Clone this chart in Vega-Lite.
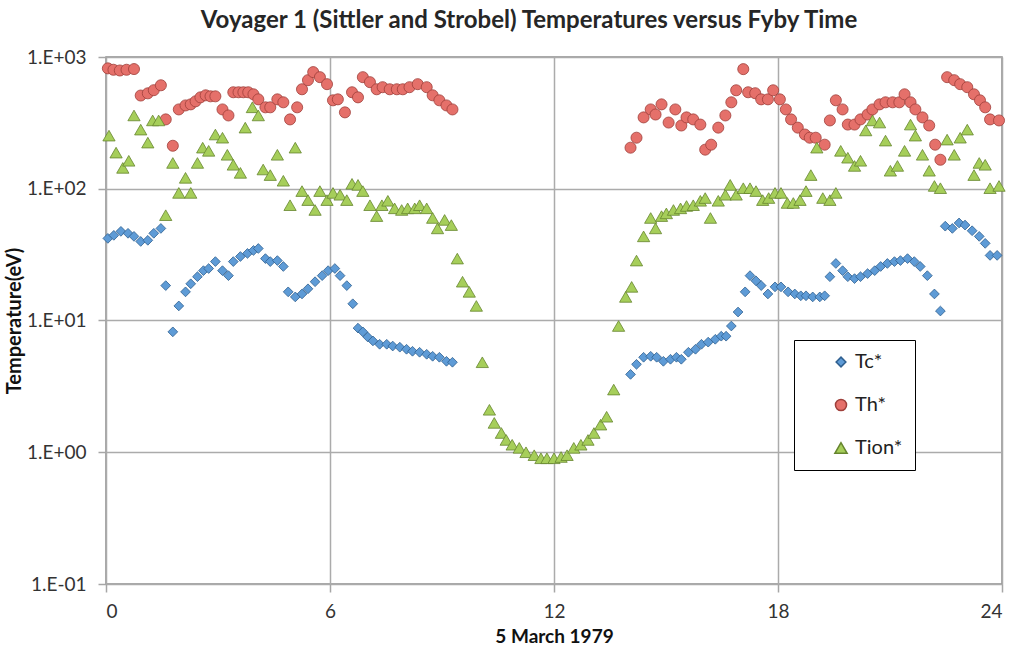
{
"$schema":"https://vega.github.io/schema/vega-lite/v6.json",
"width":896,"height":527,
"autosize":"none",
"padding":{"left":106,"top":57,"right":16,"bottom":71},
"background":"white",
"title":{"text":"Voyager 1 (Sittler and Strobel) Temperatures versus Fyby Time","font":"Lato","fontSize":24,"fontWeight":"bold","color":"#262626","anchor":"middle","dx":-25,"offset":15},
"config":{"view":{"stroke":"#8c8c8c","strokeWidth":1.5},
"axis":{"grid":true,"gridColor":"#ababab","gridWidth":1.5,"domain":false,"ticks":true,"tickColor":"#a6a6a6","tickWidth":1.5,"tickSize":8,"labelFont":"Lato","labelFontSize":19,"labelColor":"#333333","titleFont":"Lato","titleFontWeight":"bold","titleColor":"#111111"}},
"datasets":{"t":[
{"s":"Tc*","h":0.05,"T":42},{"s":"Tc*","h":0.21,"T":44.3},{"s":"Tc*","h":0.4,"T":47.5},{"s":"Tc*","h":0.59,"T":45.9},{"s":"Tc*","h":0.75,"T":43.5},{"s":"Tc*","h":0.93,"T":39.8},{"s":"Tc*","h":1.12,"T":40.6},{"s":"Tc*","h":1.28,"T":45.9},{"s":"Tc*","h":1.47,"T":50},{"s":"Tc*","h":1.6,"T":18.4},{"s":"Tc*","h":1.79,"T":8.2},{"s":"Tc*","h":1.95,"T":12.9},{"s":"Tc*","h":2.13,"T":16.5},{"s":"Tc*","h":2.27,"T":19},{"s":"Tc*","h":2.45,"T":21.5},{"s":"Tc*","h":2.61,"T":23.9},{"s":"Tc*","h":2.75,"T":24.8},{"s":"Tc*","h":2.93,"T":28},{"s":"Tc*","h":3.12,"T":23.9},{"s":"Tc*","h":3.28,"T":21.9},{"s":"Tc*","h":3.41,"T":28},{"s":"Tc*","h":3.6,"T":30.6},{"s":"Tc*","h":3.79,"T":32.3},{"s":"Tc*","h":3.95,"T":34},{"s":"Tc*","h":4.08,"T":35.2},{"s":"Tc*","h":4.27,"T":29.5},{"s":"Tc*","h":4.4,"T":28},{"s":"Tc*","h":4.59,"T":28.5},{"s":"Tc*","h":4.75,"T":25.7},{"s":"Tc*","h":4.88,"T":16.5},{"s":"Tc*","h":5.07,"T":15.1},{"s":"Tc*","h":5.25,"T":15.9},{"s":"Tc*","h":5.41,"T":17.4},{"s":"Tc*","h":5.6,"T":19.7},{"s":"Tc*","h":5.79,"T":21.9},{"s":"Tc*","h":5.95,"T":23.9},{"s":"Tc*","h":6.13,"T":24.8},{"s":"Tc*","h":6.27,"T":21.9},{"s":"Tc*","h":6.45,"T":18.4},{"s":"Tc*","h":6.61,"T":13.4},{"s":"Tc*","h":6.75,"T":8.75},{"s":"Tc*","h":6.88,"T":8.2},{"s":"Tc*","h":7.01,"T":7.5},{"s":"Tc*","h":7.15,"T":7.0},{"s":"Tc*","h":7.33,"T":6.6},{"s":"Tc*","h":7.52,"T":6.6},{"s":"Tc*","h":7.68,"T":6.4},{"s":"Tc*","h":7.87,"T":6.27},{"s":"Tc*","h":8.05,"T":6.05},{"s":"Tc*","h":8.21,"T":5.84},{"s":"Tc*","h":8.4,"T":5.74},{"s":"Tc*","h":8.59,"T":5.54},{"s":"Tc*","h":8.75,"T":5.35},{"s":"Tc*","h":8.93,"T":5.26},{"s":"Tc*","h":9.12,"T":4.9},{"s":"Tc*","h":9.28,"T":4.82},
{"s":"Tc*","h":14.05,"T":3.9},{"s":"Tc*","h":14.21,"T":4.65},{"s":"Tc*","h":14.4,"T":5.26},{"s":"Tc*","h":14.59,"T":5.35},{"s":"Tc*","h":14.75,"T":5.26},{"s":"Tc*","h":14.93,"T":4.9},{"s":"Tc*","h":15.12,"T":5.08},{"s":"Tc*","h":15.28,"T":5.26},{"s":"Tc*","h":15.41,"T":5.08},{"s":"Tc*","h":15.6,"T":5.74},{"s":"Tc*","h":15.79,"T":6.05},{"s":"Tc*","h":15.95,"T":6.6},{"s":"Tc*","h":16.13,"T":6.85},{"s":"Tc*","h":16.32,"T":7.2},{"s":"Tc*","h":16.48,"T":7.6},{"s":"Tc*","h":16.61,"T":7.6},{"s":"Tc*","h":16.75,"T":9.08},{"s":"Tc*","h":16.93,"T":11.6},{"s":"Tc*","h":17.12,"T":16.5},{"s":"Tc*","h":17.25,"T":21.9},{"s":"Tc*","h":17.41,"T":20},{"s":"Tc*","h":17.55,"T":18.4},{"s":"Tc*","h":17.73,"T":15.9},{"s":"Tc*","h":17.92,"T":18},{"s":"Tc*","h":18.08,"T":18},{"s":"Tc*","h":18.27,"T":16.5},{"s":"Tc*","h":18.45,"T":15.9},{"s":"Tc*","h":18.61,"T":15.4},{"s":"Tc*","h":18.75,"T":15.4},{"s":"Tc*","h":18.93,"T":15.1},{"s":"Tc*","h":19.12,"T":15.1},{"s":"Tc*","h":19.25,"T":15.4},{"s":"Tc*","h":19.39,"T":21.5},{"s":"Tc*","h":19.55,"T":27.1},{"s":"Tc*","h":19.73,"T":23.9},{"s":"Tc*","h":19.87,"T":21.5},{"s":"Tc*","h":20.05,"T":20.8},{"s":"Tc*","h":20.21,"T":21.5},{"s":"Tc*","h":20.4,"T":22.7},{"s":"Tc*","h":20.59,"T":23.9},{"s":"Tc*","h":20.75,"T":25.7},{"s":"Tc*","h":20.93,"T":27.1},{"s":"Tc*","h":21.12,"T":28},{"s":"Tc*","h":21.28,"T":28.5},{"s":"Tc*","h":21.47,"T":29.5},{"s":"Tc*","h":21.65,"T":28},{"s":"Tc*","h":21.81,"T":25.7},{"s":"Tc*","h":22.0,"T":21.9},{"s":"Tc*","h":22.19,"T":15.9},{"s":"Tc*","h":22.35,"T":11.8},{"s":"Tc*","h":22.48,"T":52},{"s":"Tc*","h":22.67,"T":50},{"s":"Tc*","h":22.85,"T":55},{"s":"Tc*","h":23.01,"T":53},{"s":"Tc*","h":23.2,"T":48},{"s":"Tc*","h":23.39,"T":43.5},{"s":"Tc*","h":23.55,"T":38.5},{"s":"Tc*","h":23.68,"T":31.2},{"s":"Tc*","h":23.87,"T":31.2},
{"s":"Th*","h":0.05,"T":820},{"s":"Th*","h":0.2,"T":800},{"s":"Th*","h":0.37,"T":790},{"s":"Th*","h":0.55,"T":800},{"s":"Th*","h":0.75,"T":810},{"s":"Th*","h":0.93,"T":510},{"s":"Th*","h":1.12,"T":530},{"s":"Th*","h":1.28,"T":560},{"s":"Th*","h":1.47,"T":610},{"s":"Th*","h":1.6,"T":336},{"s":"Th*","h":1.79,"T":212},{"s":"Th*","h":1.95,"T":400},{"s":"Th*","h":2.13,"T":429},{"s":"Th*","h":2.27,"T":437},{"s":"Th*","h":2.4,"T":461},{"s":"Th*","h":2.53,"T":494},{"s":"Th*","h":2.67,"T":512},{"s":"Th*","h":2.8,"T":503},{"s":"Th*","h":2.93,"T":503},{"s":"Th*","h":3.12,"T":400},{"s":"Th*","h":3.28,"T":360},{"s":"Th*","h":3.41,"T":540},{"s":"Th*","h":3.55,"T":540},{"s":"Th*","h":3.68,"T":540},{"s":"Th*","h":3.81,"T":540},{"s":"Th*","h":3.95,"T":521},{"s":"Th*","h":4.08,"T":477},{"s":"Th*","h":4.27,"T":415},{"s":"Th*","h":4.4,"T":415},{"s":"Th*","h":4.59,"T":477},{"s":"Th*","h":4.75,"T":453},{"s":"Th*","h":4.93,"T":336},{"s":"Th*","h":5.12,"T":415},{"s":"Th*","h":5.25,"T":569},{"s":"Th*","h":5.41,"T":667},{"s":"Th*","h":5.55,"T":768},{"s":"Th*","h":5.73,"T":703},{"s":"Th*","h":5.92,"T":622},{"s":"Th*","h":6.08,"T":469},{"s":"Th*","h":6.21,"T":477},{"s":"Th*","h":6.4,"T":380},{"s":"Th*","h":6.59,"T":540},{"s":"Th*","h":6.75,"T":494},{"s":"Th*","h":6.88,"T":703},{"s":"Th*","h":7.07,"T":644},{"s":"Th*","h":7.25,"T":569},{"s":"Th*","h":7.41,"T":590},{"s":"Th*","h":7.6,"T":569},{"s":"Th*","h":7.79,"T":569},{"s":"Th*","h":7.95,"T":569},{"s":"Th*","h":8.13,"T":590},{"s":"Th*","h":8.35,"T":622},{"s":"Th*","h":8.59,"T":590},{"s":"Th*","h":8.75,"T":512},{"s":"Th*","h":8.93,"T":469},{"s":"Th*","h":9.12,"T":429},{"s":"Th*","h":9.28,"T":400},
{"s":"Th*","h":14.05,"T":205},{"s":"Th*","h":14.21,"T":244},{"s":"Th*","h":14.4,"T":348},{"s":"Th*","h":14.59,"T":400},{"s":"Th*","h":14.72,"T":366},{"s":"Th*","h":14.88,"T":437},{"s":"Th*","h":15.07,"T":318},{"s":"Th*","h":15.25,"T":400},{"s":"Th*","h":15.41,"T":302},{"s":"Th*","h":15.55,"T":348},{"s":"Th*","h":15.73,"T":336},{"s":"Th*","h":15.92,"T":307},{"s":"Th*","h":16.05,"T":198},{"s":"Th*","h":16.21,"T":216},{"s":"Th*","h":16.4,"T":291},{"s":"Th*","h":16.59,"T":360},{"s":"Th*","h":16.75,"T":453},{"s":"Th*","h":16.88,"T":559},{"s":"Th*","h":17.07,"T":809},{"s":"Th*","h":17.2,"T":540},{"s":"Th*","h":17.39,"T":531},{"s":"Th*","h":17.55,"T":477},{"s":"Th*","h":17.73,"T":477},{"s":"Th*","h":17.87,"T":559},{"s":"Th*","h":18.05,"T":477},{"s":"Th*","h":18.21,"T":400},{"s":"Th*","h":18.35,"T":336},{"s":"Th*","h":18.53,"T":291},{"s":"Th*","h":18.72,"T":258},{"s":"Th*","h":18.85,"T":244},{"s":"Th*","h":19.01,"T":244},{"s":"Th*","h":19.25,"T":216},{"s":"Th*","h":19.39,"T":330},{"s":"Th*","h":19.55,"T":469},{"s":"Th*","h":19.73,"T":400},{"s":"Th*","h":19.87,"T":307},{"s":"Th*","h":20.05,"T":307},{"s":"Th*","h":20.21,"T":336},{"s":"Th*","h":20.4,"T":366},{"s":"Th*","h":20.53,"T":400},{"s":"Th*","h":20.72,"T":437},{"s":"Th*","h":20.88,"T":453},{"s":"Th*","h":21.07,"T":453},{"s":"Th*","h":21.25,"T":453},{"s":"Th*","h":21.39,"T":521},{"s":"Th*","h":21.55,"T":453},{"s":"Th*","h":21.68,"T":400},{"s":"Th*","h":21.87,"T":348},{"s":"Th*","h":22.05,"T":302},{"s":"Th*","h":22.21,"T":216},{"s":"Th*","h":22.35,"T":166},{"s":"Th*","h":22.53,"T":703},{"s":"Th*","h":22.72,"T":667},{"s":"Th*","h":22.88,"T":622},{"s":"Th*","h":23.07,"T":590},{"s":"Th*","h":23.25,"T":521},{"s":"Th*","h":23.41,"T":469},{"s":"Th*","h":23.55,"T":415},{"s":"Th*","h":23.68,"T":336},{"s":"Th*","h":23.92,"T":330},
{"s":"Tion*","h":0.08,"T":253},{"s":"Tion*","h":0.27,"T":188},{"s":"Tion*","h":0.45,"T":144},{"s":"Tion*","h":0.61,"T":163},{"s":"Tion*","h":0.75,"T":360},{"s":"Tion*","h":0.93,"T":281},{"s":"Tion*","h":1.12,"T":224},{"s":"Tion*","h":1.25,"T":330},{"s":"Tion*","h":1.41,"T":330},{"s":"Tion*","h":1.6,"T":63},{"s":"Tion*","h":1.79,"T":157},{"s":"Tion*","h":1.95,"T":93},{"s":"Tion*","h":2.13,"T":121},{"s":"Tion*","h":2.27,"T":93},{"s":"Tion*","h":2.45,"T":157},{"s":"Tion*","h":2.59,"T":205},{"s":"Tion*","h":2.75,"T":194},{"s":"Tion*","h":2.93,"T":258},{"s":"Tion*","h":3.12,"T":244},{"s":"Tion*","h":3.25,"T":181},{"s":"Tion*","h":3.41,"T":152},{"s":"Tion*","h":3.6,"T":132},{"s":"Tion*","h":3.73,"T":291},{"s":"Tion*","h":3.92,"T":415},{"s":"Tion*","h":4.08,"T":360},{"s":"Tion*","h":4.21,"T":140},{"s":"Tion*","h":4.4,"T":127},{"s":"Tion*","h":4.59,"T":181},{"s":"Tion*","h":4.75,"T":115},{"s":"Tion*","h":4.93,"T":75},{"s":"Tion*","h":5.07,"T":205},{"s":"Tion*","h":5.25,"T":96},{"s":"Tion*","h":5.41,"T":82},{"s":"Tion*","h":5.6,"T":69},{"s":"Tion*","h":5.73,"T":96},{"s":"Tion*","h":5.92,"T":82},{"s":"Tion*","h":6.08,"T":93},{"s":"Tion*","h":6.27,"T":90},{"s":"Tion*","h":6.45,"T":82},{"s":"Tion*","h":6.59,"T":109},{"s":"Tion*","h":6.75,"T":107},{"s":"Tion*","h":6.88,"T":96},{"s":"Tion*","h":7.07,"T":75},{"s":"Tion*","h":7.25,"T":62},{"s":"Tion*","h":7.39,"T":75},{"s":"Tion*","h":7.55,"T":81},{"s":"Tion*","h":7.73,"T":71},{"s":"Tion*","h":7.92,"T":69},{"s":"Tion*","h":8.08,"T":71},{"s":"Tion*","h":8.27,"T":71},{"s":"Tion*","h":8.4,"T":75},{"s":"Tion*","h":8.59,"T":71},{"s":"Tion*","h":8.75,"T":60},{"s":"Tion*","h":8.88,"T":50},{"s":"Tion*","h":9.07,"T":58},{"s":"Tion*","h":9.25,"T":53},{"s":"Tion*","h":9.41,"T":29.5},{"s":"Tion*","h":9.55,"T":19.7},{"s":"Tion*","h":9.73,"T":16.5},{"s":"Tion*","h":9.92,"T":12.9},{"s":"Tion*","h":10.08,"T":4.82},{"s":"Tion*","h":10.27,"T":2.1},{"s":"Tion*","h":10.4,"T":1.67},{"s":"Tion*","h":10.59,"T":1.4},{"s":"Tion*","h":10.72,"T":1.24},{"s":"Tion*","h":10.88,"T":1.14},{"s":"Tion*","h":11.07,"T":1.08},{"s":"Tion*","h":11.25,"T":1.0},{"s":"Tion*","h":11.47,"T":0.95},{"s":"Tion*","h":11.65,"T":0.9},{"s":"Tion*","h":11.81,"T":0.9},{"s":"Tion*","h":12.0,"T":0.9},{"s":"Tion*","h":12.19,"T":0.92},{"s":"Tion*","h":12.35,"T":0.95},{"s":"Tion*","h":12.53,"T":1.08},{"s":"Tion*","h":12.72,"T":1.14},{"s":"Tion*","h":12.91,"T":1.24},{"s":"Tion*","h":13.07,"T":1.4},{"s":"Tion*","h":13.25,"T":1.62},{"s":"Tion*","h":13.41,"T":1.86},{"s":"Tion*","h":13.6,"T":2.99},{"s":"Tion*","h":13.73,"T":9.08},{"s":"Tion*","h":13.92,"T":15.1},{"s":"Tion*","h":14.08,"T":18},{"s":"Tion*","h":14.21,"T":28.5},{"s":"Tion*","h":14.4,"T":43.5},{"s":"Tion*","h":14.59,"T":60},{"s":"Tion*","h":14.72,"T":50},{"s":"Tion*","h":14.88,"T":62},{"s":"Tion*","h":15.01,"T":65},{"s":"Tion*","h":15.2,"T":69},{"s":"Tion*","h":15.39,"T":71},{"s":"Tion*","h":15.55,"T":74},{"s":"Tion*","h":15.73,"T":75},{"s":"Tion*","h":15.92,"T":81},{"s":"Tion*","h":16.05,"T":85},{"s":"Tion*","h":16.19,"T":60},{"s":"Tion*","h":16.4,"T":81},{"s":"Tion*","h":16.59,"T":90},{"s":"Tion*","h":16.72,"T":107},{"s":"Tion*","h":16.88,"T":90},{"s":"Tion*","h":17.07,"T":101},{"s":"Tion*","h":17.25,"T":101},{"s":"Tion*","h":17.41,"T":96},{"s":"Tion*","h":17.59,"T":82},{"s":"Tion*","h":17.75,"T":85},{"s":"Tion*","h":17.92,"T":93},{"s":"Tion*","h":18.08,"T":93},{"s":"Tion*","h":18.25,"T":78},{"s":"Tion*","h":18.41,"T":78},{"s":"Tion*","h":18.59,"T":82},{"s":"Tion*","h":18.75,"T":96},{"s":"Tion*","h":18.88,"T":127},{"s":"Tion*","h":19.04,"T":205},{"s":"Tion*","h":19.2,"T":85},{"s":"Tion*","h":19.39,"T":82},{"s":"Tion*","h":19.55,"T":93},{"s":"Tion*","h":19.68,"T":194},{"s":"Tion*","h":19.87,"T":172},{"s":"Tion*","h":20.05,"T":149},{"s":"Tion*","h":20.21,"T":163},{"s":"Tion*","h":20.35,"T":277},{"s":"Tion*","h":20.53,"T":330},{"s":"Tion*","h":20.72,"T":318},{"s":"Tion*","h":20.88,"T":232},{"s":"Tion*","h":21.01,"T":137},{"s":"Tion*","h":21.2,"T":149},{"s":"Tion*","h":21.39,"T":194},{"s":"Tion*","h":21.55,"T":307},{"s":"Tion*","h":21.68,"T":253},{"s":"Tion*","h":21.87,"T":181},{"s":"Tion*","h":22.05,"T":137},{"s":"Tion*","h":22.19,"T":105},{"s":"Tion*","h":22.35,"T":101},{"s":"Tion*","h":22.53,"T":236},{"s":"Tion*","h":22.72,"T":181},{"s":"Tion*","h":22.88,"T":244},{"s":"Tion*","h":23.07,"T":281},{"s":"Tion*","h":23.25,"T":127},{"s":"Tion*","h":23.39,"T":157},{"s":"Tion*","h":23.55,"T":152},{"s":"Tion*","h":23.68,"T":101},{"s":"Tion*","h":23.92,"T":105}
]},
"data":{"name":"t"},
"mark":{"type":"point","filled":true,"opacity":1,"strokeWidth":0.8},
"encoding":{
"x":{"field":"h","type":"quantitative","scale":{"domain":[0,24],"nice":false,"zero":false},"axis":{"values":[0,6,12,18,24],"title":"5 March 1979","titleFontSize":19,"labelPadding":10,"titlePadding":6}},
"y":{"field":"T","type":"quantitative","scale":{"type":"log","domain":[0.1,1000],"nice":false},"axis":{"values":[0.1,1,10,100,1000],"labelExpr":"round(log(datum.value)/LN10) < 0 ? '1.E-0' + (-round(log(datum.value)/LN10)) : '1.E+0' + round(log(datum.value)/LN10)","title":"Temperature(eV)","titleFontSize":20,"labelPadding":12,"titlePadding":2}},
"color":{"field":"s","type":"nominal","scale":{"domain":["Tc*","Th*","Tion*"],"range":["#5e9bd6","#e5706a","#a6ce5a"]},"legend":{"title":null,"orient":"none","legendX":688,"legendY":283,"strokeColor":"#000000","fillColor":"#ffffff","padding":12,"symbolOffset":25,"rowPadding":23,"labelFont":"Lato","labelFontSize":20,"labelColor":"#222222","symbolSize":110,"labelExpr":"datum.label + '\u00a0\u00a0\u00a0\u00a0\u00a0'"}},
"shape":{"field":"s","type":"nominal","scale":{"domain":["Tc*","Th*","Tion*"],"range":["diamond","circle","triangle-up"]},"legend":{"title":null,"orient":"none","legendX":688,"legendY":283,"strokeColor":"#000000","fillColor":"#ffffff","padding":12,"symbolOffset":25,"rowPadding":23,"labelFont":"Lato","labelFontSize":20,"labelColor":"#222222","symbolSize":110,"labelExpr":"datum.label + '\u00a0\u00a0\u00a0\u00a0\u00a0'"}},
"size":{"field":"s","type":"nominal","scale":{"domain":["Tc*","Th*","Tion*"],"range":[95,150,150]},"legend":null},
"stroke":{"field":"s","type":"nominal","scale":{"domain":["Tc*","Th*","Tion*"],"range":["#2f5f8f","#9e3f3a","#66852e"]},"legend":null}
}
}
